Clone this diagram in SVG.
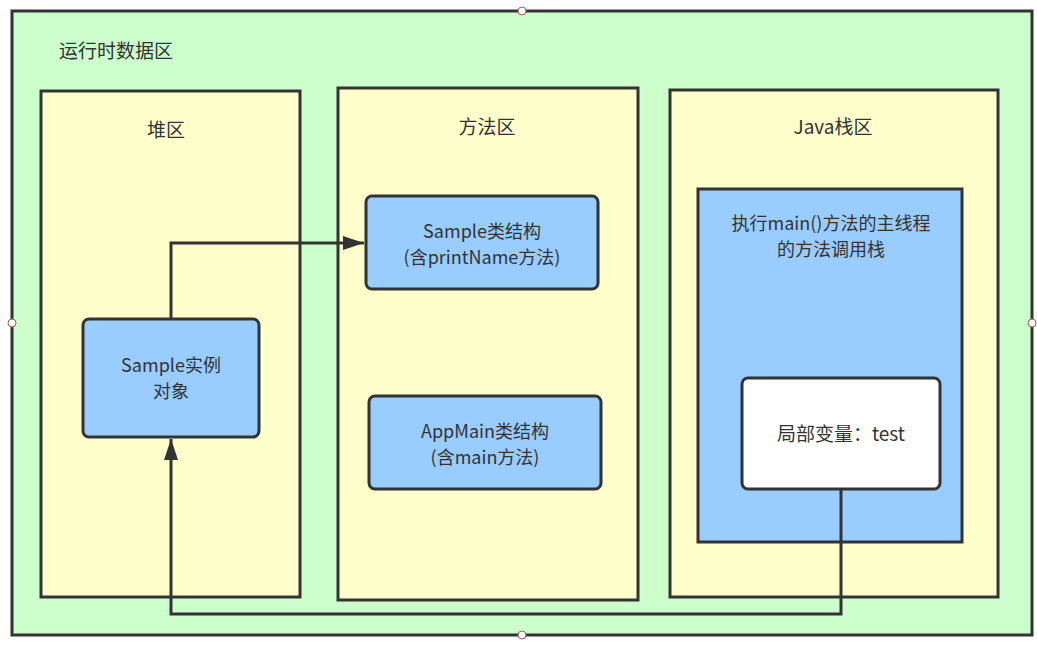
<svg xmlns="http://www.w3.org/2000/svg" width="1037" height="650" viewBox="0 0 1037 650">
<defs>
<style>
.box{stroke:#333;stroke-width:3}
.green{fill:#CCFFCC}
.yellow{fill:#FFFFCC}
.blue{fill:#99CCFF}
.white{fill:#FFFFFF}
text{font-family:"Noto Sans CJK SC","Noto Sans",sans-serif;font-size:19px;fill:#333}
text.two{font-size:18px}
.c{text-anchor:middle}
.conn{fill:none;stroke:#333;stroke-width:3}
.handle{fill:#fff;stroke:#B85450;stroke-width:1}
</style>
<marker id="arr" markerUnits="userSpaceOnUse" markerWidth="22" markerHeight="16" refX="21" refY="8" orient="auto">
<path d="M0,1 L21,8 L0,15 z" fill="#333"/>
</marker>
</defs>
<rect width="1037" height="650" fill="#fff"/>
<g id="runtime">
<rect class="box green" x="12" y="11" width="1020" height="624"/>
<text x="59" y="58">运行时数据区</text>
</g>
<g id="heap">
<rect class="box yellow" x="41" y="91" width="259" height="506"/>
<text class="c" x="166" y="137">堆区</text>
</g>
<g id="method">
<rect class="box yellow" x="338" y="88" width="300" height="512"/>
<text class="c" x="487" y="134">方法区</text>
</g>
<g id="stack">
<rect class="box yellow" x="670" y="90" width="328" height="507"/>
<text class="c" x="833" y="134">Java栈区</text>
</g>
<g id="frame">
<rect class="box blue" x="698" y="189" width="264" height="353"/>
<text class="c two" x="831" y="229.5">执行main()方法的主线程</text>
<text class="c two" x="831" y="256">的方法调用栈</text>
</g>
<g id="sampleClass">
<rect class="box blue" x="366" y="196" width="232" height="93" rx="6"/>
<text class="c two" x="482" y="237.5">Sample类结构</text>
<text class="c two" x="482" y="264">(含printName方法)</text>
</g>
<g id="appMain">
<rect class="box blue" x="369" y="396" width="232" height="93" rx="6"/>
<text class="c two" x="485" y="437.5">AppMain类结构</text>
<text class="c two" x="485" y="464">(含main方法)</text>
</g>
<g id="sampleObj">
<rect class="box blue" x="83" y="319" width="176" height="118" rx="6"/>
<text class="c two" x="171" y="371.5">Sample实例</text>
<text class="c two" x="171" y="398">对象</text>
</g>
<g id="localVar">
<rect class="box white" x="742" y="378" width="198" height="111" rx="6"/>
<text class="c" x="841" y="441">局部变量：test</text>
</g>
<g id="connectors">
<path class="conn" d="M171,319 V243 H364" marker-end="url(#arr)"/>
<path class="conn" d="M841,489 V614 H171 V439" marker-end="url(#arr)"/>
</g>
<g id="handles">
<circle class="handle" cx="522" cy="11" r="4"/>
<circle class="handle" cx="12" cy="323" r="4"/>
<circle class="handle" cx="1032" cy="323" r="4"/>
<circle class="handle" cx="522" cy="635" r="4"/>
</g>
</svg>
